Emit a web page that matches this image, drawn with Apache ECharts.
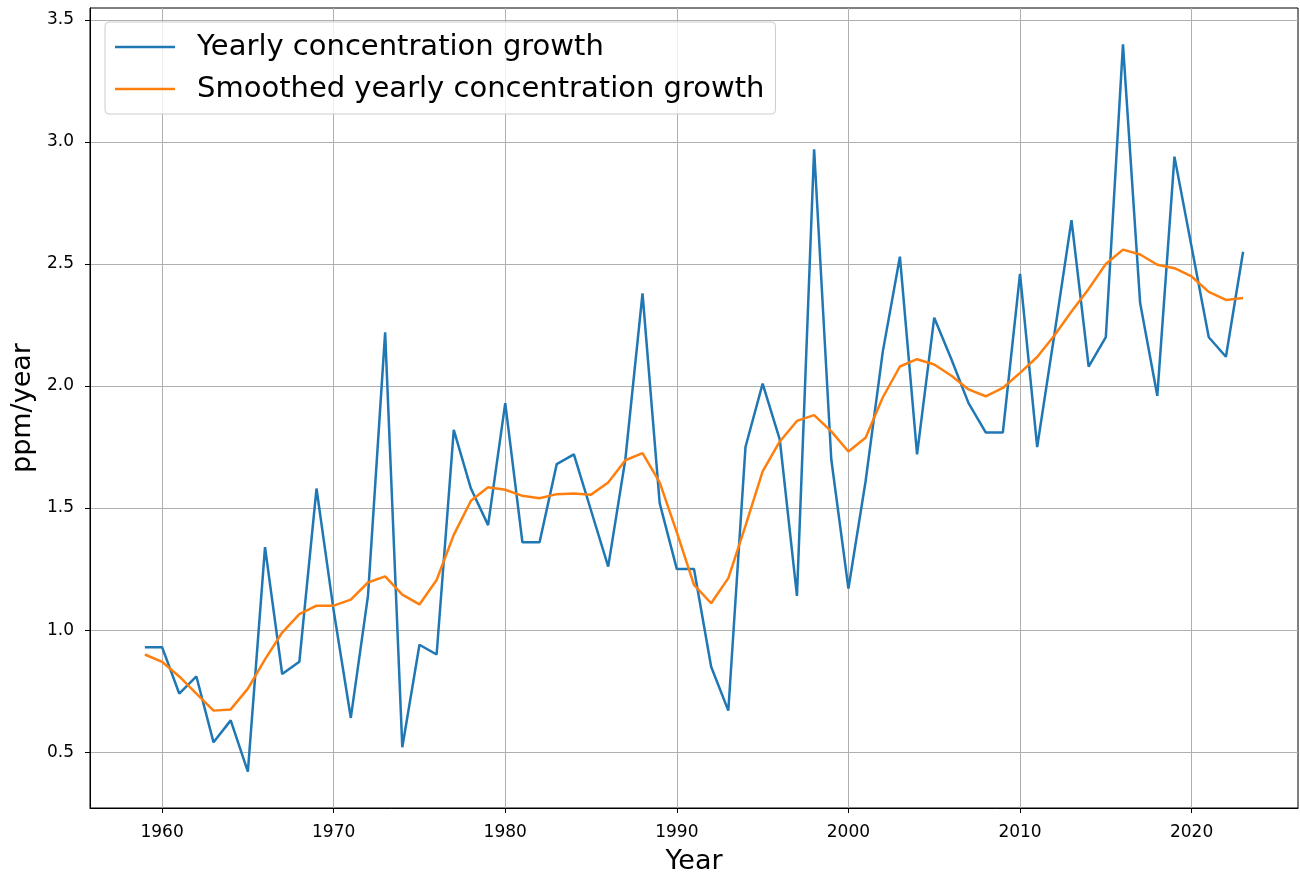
<!DOCTYPE html>
<html>
<head>
<meta charset="utf-8">
<title>CO2 concentration growth</title>
<script src="https://cdn.jsdelivr.net/npm/echarts@6/dist/echarts.min.js"></script>
<style>
  html, body { margin: 0; padding: 0; background: #ffffff; }
  #chart { width: 1300px; height: 876px; }
</style>
</head>
<body>
<div id="chart"></div>
<script>
// Years of the record
const years = [
  1959, 1960, 1961, 1962, 1963, 1964, 1965, 1966, 1967, 1968,
  1969, 1970, 1971, 1972, 1973, 1974, 1975, 1976, 1977, 1978,
  1979, 1980, 1981, 1982, 1983, 1984, 1985, 1986, 1987, 1988,
  1989, 1990, 1991, 1992, 1993, 1994, 1995, 1996, 1997, 1998,
  1999, 2000, 2001, 2002, 2003, 2004, 2005, 2006, 2007, 2008,
  2009, 2010, 2011, 2012, 2013, 2014, 2015, 2016, 2017, 2018,
  2019, 2020, 2021, 2022, 2023
];

// Yearly concentration growth (ppm/year)
const yearlyGrowth = [
  0.93, 0.93, 0.74, 0.81, 0.54, 0.63, 0.42, 1.34, 0.82, 0.87,
  1.58, 1.08, 0.64, 1.14, 2.22, 0.52, 0.94, 0.90, 1.82, 1.58,
  1.43, 1.93, 1.36, 1.36, 1.68, 1.72, 1.49, 1.26, 1.70, 2.38,
  1.52, 1.25, 1.25, 0.85, 0.67, 1.75, 2.01, 1.78, 1.14, 2.97,
  1.70, 1.17, 1.61, 2.14, 2.53, 1.72, 2.28, 2.11, 1.93, 1.81,
  1.81, 2.46, 1.75, 2.21, 2.68, 2.08, 2.20, 3.40, 2.34, 1.96,
  2.94, 2.57, 2.20, 2.12, 2.55
];

// Smoothed yearly concentration growth (ppm/year)
const smoothedGrowth = [
  0.90, 0.87, 0.81, 0.74, 0.67, 0.675, 0.76, 0.88, 0.99, 1.065,
  1.10, 1.10, 1.125, 1.195, 1.22, 1.145, 1.105, 1.205, 1.39, 1.53,
  1.585, 1.575, 1.55, 1.54, 1.557, 1.56, 1.555, 1.605, 1.696, 1.725,
  1.605, 1.40, 1.185, 1.11, 1.213, 1.427, 1.65, 1.773, 1.857, 1.881,
  1.814, 1.732, 1.788, 1.953, 2.08, 2.11, 2.088, 2.042, 1.986, 1.958,
  1.992, 2.054, 2.119, 2.207, 2.305, 2.398, 2.50, 2.559, 2.539, 2.497,
  2.483, 2.449, 2.386, 2.353, 2.361
];

// Tick positions
const xTicks = [1960, 1970, 1980, 1990, 2000, 2010, 2020];
const yTicks = [0.5, 1.0, 1.5, 2.0, 2.5, 3.0, 3.5];

const FONT = '"DejaVu Sans", sans-serif';
const GRID_COLOR = '#b0b0b0';

const chart = echarts.init(document.getElementById('chart'), null, { renderer: 'canvas' });

const toPairs = (vals) => years.map((y, i) => [y, vals[i]]);

chart.setOption({
  animation: false,
  backgroundColor: '#ffffff',
  grid: {
    left: 90, top: 8, width: 1208, height: 800,
    outerBoundsMode: 'none',
    containLabel: false,
    show: true, borderColor: '#000000', borderWidth: 1,
    backgroundColor: 'transparent'
  },
  legend: {
    left: 105, top: 22,
    orient: 'vertical',
    icon: 'rect',
    itemWidth: 60, itemHeight: 2.5,
    itemGap: 12,
    padding: [10, 11, 10, 10],
    backgroundColor: 'rgba(255,255,255,0.8)',
    borderColor: '#cccccc', borderWidth: 1, borderRadius: 4,
    textStyle: {
      fontFamily: FONT, fontSize: 29, color: '#000000',
      lineHeight: 30, padding: [0, 0, 0, 17]
    },
    data: ['Yearly concentration growth', 'Smoothed yearly concentration growth']
  },
  xAxis: {
    type: 'value',
    min: 1955.8, max: 2026.2,
    name: 'Year',
    nameLocation: 'middle', nameGap: 40,
    nameTextStyle: { fontFamily: FONT, fontSize: 27, color: '#000000' },
    axisLine: { show: true, onZero: false, lineStyle: { color: '#000000', width: 1 } },
    axisTick: { show: true, inside: false, length: 5, customValues: xTicks, lineStyle: { color: '#000000', width: 1 } },
    axisLabel: { customValues: xTicks, margin: 16, fontFamily: FONT, fontSize: 17, color: '#000000',
      formatter: (v) => String(v) },
    splitLine: { show: true, lineStyle: { color: GRID_COLOR, width: 1 } }
  },
  yAxis: {
    type: 'value',
    min: 0.271, max: 3.549,
    name: 'ppm/year',
    nameLocation: 'middle', nameGap: 48,
    nameTextStyle: { fontFamily: FONT, fontSize: 27, color: '#000000' },
    axisLine: { show: true, onZero: false, lineStyle: { color: '#000000', width: 1 } },
    axisTick: { show: true, inside: false, length: 5, customValues: yTicks, lineStyle: { color: '#000000', width: 1 } },
    axisLabel: { customValues: yTicks, margin: 16, fontFamily: FONT, fontSize: 17, color: '#000000',
      formatter: (v) => v.toFixed(1) },
    splitLine: { show: true, lineStyle: { color: GRID_COLOR, width: 1 } }
  },
  series: [
    {
      name: 'Yearly concentration growth',
      type: 'line',
      data: toPairs(yearlyGrowth),
      showSymbol: false, symbol: 'none',
      lineStyle: { color: '#1f77b4', width: 2.5 },
      itemStyle: { color: '#1f77b4' }
    },
    {
      name: 'Smoothed yearly concentration growth',
      type: 'line',
      data: toPairs(smoothedGrowth),
      showSymbol: false, symbol: 'none',
      lineStyle: { color: '#ff7f0e', width: 2.5 },
      itemStyle: { color: '#ff7f0e' }
    }
  ]
});
</script>
</body>
</html>
